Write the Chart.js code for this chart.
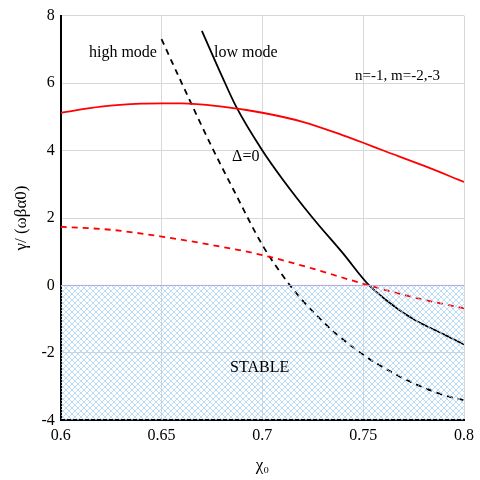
<!DOCTYPE html>
<html>
<head>
<script src="https://cdn.jsdelivr.net/npm/chart.js@4"></script>
<style>body{margin:0;background:#fff}#wrap{width:480px;height:480px}</style>
</head>
<body>
<div id="wrap"><canvas id="c"></canvas></div>
<script>
// values
const redSolidX = [0.6, 0.62, 0.64, 0.65, 0.66, 0.68, 0.7, 0.72, 0.74, 0.75, 0.76, 0.78, 0.8];
const redSolidY = [5.12, 5.3, 5.39, 5.4, 5.4, 5.3, 5.12, 4.85, 4.45, 4.23, 4.0, 3.55, 3.07];
const redDashX = [0.6, 0.625, 0.65, 0.675, 0.7, 0.725, 0.75, 0.775, 0.8];
const redDashY = [1.74, 1.65, 1.45, 1.2, 0.9, 0.5, 0.05, -0.35, -0.68];
const blackSolidX = [0.67, 0.68, 0.687, 0.7, 0.71, 0.725, 0.74, 0.753, 0.765, 0.775, 0.79, 0.8];
const blackSolidY = [7.55, 6.2, 5.3, 4.0, 3.15, 2.0, 0.95, 0.0, -0.6, -1.0, -1.45, -1.75];
const blackDashX = [0.65, 0.66, 0.675, 0.686, 0.7, 0.71, 0.72, 0.735, 0.75, 0.765, 0.775, 0.79, 0.8];
const blackDashY = [7.3, 6.0, 4.1, 2.8, 1.2, 0.3, -0.45, -1.35, -2.05, -2.6, -2.9, -3.25, -3.4];
const stableX = [0.6, 0.8];
const stableY = [0, 0];

const pts = (xs, ys) => xs.map((x, i) => ({x: x, y: ys[i]}));

// cross-hatch pattern
const pc = document.createElement('canvas');
pc.width = 6; pc.height = 6;
const p = pc.getContext('2d');
p.strokeStyle = '#9fcbef'; p.lineWidth = 0.7;
p.beginPath(); p.moveTo(0, 0); p.lineTo(6, 6); p.moveTo(6, 0); p.lineTo(0, 6); p.stroke();
const hatch = p.createPattern(pc, 'repeat');

const labels = {
  id: 'labels',
  afterDatasetsDraw(chart) {
    const {ctx, scales: {x, y}} = chart;
    ctx.save();
    ctx.fillStyle = '#000';
    ctx.font = '16px "Liberation Serif"';
    ctx.textBaseline = 'middle';
    ctx.fillText('high mode', x.getPixelForValue(0.614), y.getPixelForValue(6.9));
    ctx.fillText('low mode', x.getPixelForValue(0.676), y.getPixelForValue(6.9));
    ctx.font = '15px "Liberation Serif"';
    ctx.fillText('n=-1, m=-2,-3', x.getPixelForValue(0.746), y.getPixelForValue(6.2));
    ctx.font = '16px "Liberation Serif"';
    ctx.fillText('\u0394=0', x.getPixelForValue(0.685), y.getPixelForValue(3.8));
    ctx.fillText('STABLE', x.getPixelForValue(0.684), y.getPixelForValue(-2.45));
    ctx.restore();
  }
};

const line = (data, color, dash, w) => ({
  data: data, borderColor: color, borderDash: dash, borderWidth: w,
  pointRadius: 0, cubicInterpolationMode: 'monotone', fill: false
});

new Chart(document.getElementById('c'), {
  type: 'line',
  data: {
    datasets: [
      {data: pts(stableX, stableY), borderColor: '#b9a6e6', borderWidth: 1, pointRadius: 0,
       fill: 'start', backgroundColor: hatch},
      line(pts(redSolidX, redSolidY), '#ff0000', [], 1.8),
      line(pts(redDashX, redDashY), '#ff0000', [6, 5], 1.8),
      line(pts(blackSolidX, blackSolidY), '#000', [], 1.8),
      line(pts(blackDashX, blackDashY), '#000', [6, 5], 1.8)
    ]
  },
  options: {
    responsive: true, maintainAspectRatio: false, animation: false,
    layout: {padding: {top: 2, right: 0, left: 7}},
    plugins: {legend: {display: false}, tooltip: {enabled: false}},
    scales: {
      x: {
        type: 'linear', min: 0.6, max: 0.8,
        grid: {color: '#d8d8d8', drawTicks: false},
        border: {color: '#000', width: 2},
        ticks: {stepSize: 0.05, color: '#000', padding: 6,
          font: {family: 'Liberation Serif', size: 16},
          callback: v => Math.abs(v - 0.8) < 1e-9 ? '0.8' : (Math.abs(v - 0.6) < 1e-9 ? '0.6' : v.toFixed(2).replace(/0$/, ''))},
        title: {display: true, text: '\u03c7\u2080', color: '#000', font: {family: 'Liberation Serif', size: 17}}
      },
      y: {
        min: -4, max: 8,
        grid: {color: '#d8d8d8', drawTicks: false},
        border: {color: '#000', width: 2},
        ticks: {stepSize: 2, color: '#000', padding: 6, font: {family: 'Liberation Serif', size: 16}},
        title: {display: true, text: '\u03b3/ (\u03c9\u03b2\u03b10)', color: '#000', font: {family: 'Liberation Serif', size: 17}}
      }
    }
  },
  plugins: [labels]
});
</script>
</body>
</html>
